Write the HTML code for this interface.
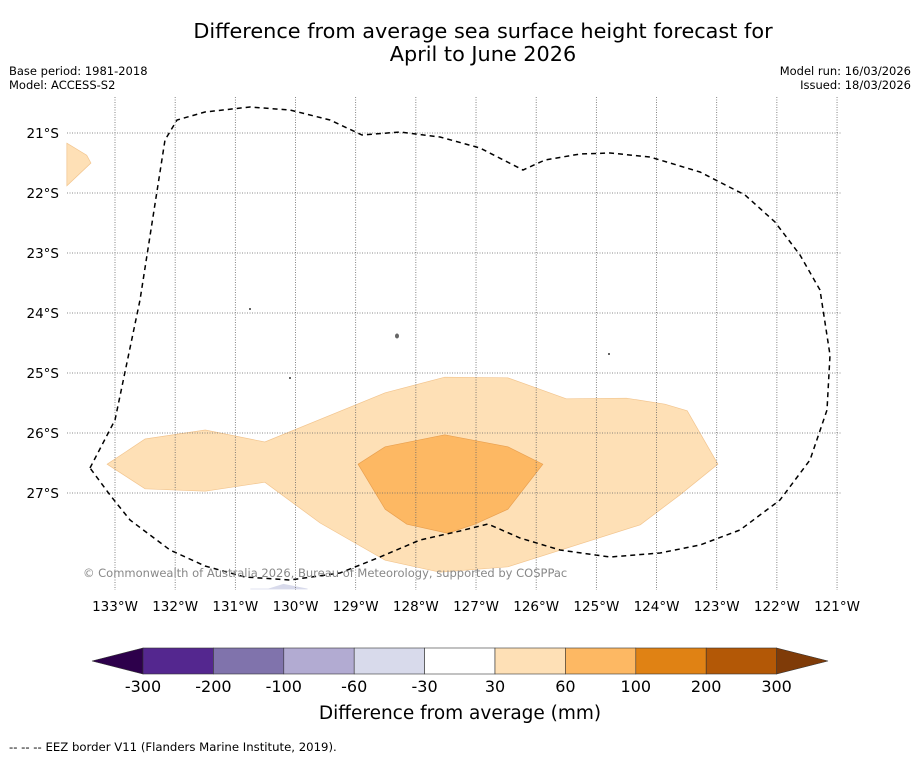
<!DOCTYPE html>
<html><head><meta charset="utf-8"><style>
body{margin:0;background:#fff;width:919px;height:758px;overflow:hidden;font-family:"DejaVu Sans","Liberation Sans",sans-serif}
svg{display:block}
</style></head><body>
<svg id="c" width="919" height="758">
<text x="483" y="38" text-anchor="middle" font-size="20.8">Difference from average sea surface height forecast for</text>
<text x="483" y="61" text-anchor="middle" font-size="20.8">April to June 2026</text>
<text x="9" y="75" font-size="11.5">Base period: 1981-2018</text>
<text x="9" y="89" font-size="11.5">Model: ACCESS-S2</text>
<text x="911" y="75" font-size="11.5" text-anchor="end">Model run: 16/03/2026</text>
<text x="911" y="89" font-size="11.5" text-anchor="end">Issued: 18/03/2026</text>
<g id="fills"></g>
<g id="grid"></g>
<path fill="none" stroke="#000" stroke-width="1.5" stroke-dasharray="5,4" d="M90,468 L115,420 L140,300 L165,140 L177,120 L205,112 L250,107 L290,110 L330,120 L362,135 L400,132 L440,137 L480,148 L523,170 L545,160 L580,154 L610,153 L650,157 L700,172 L745,195 L775,222 L800,255 L820,290 L830,355 L827,410 L810,460 L780,500 L740,530 L700,545 L660,553 L610,557 L560,550 L520,538 L488,524 L460,531 L420,540 L380,557 L340,573 L290,580 L245,577 L205,566 L170,550 L130,520 L110,495 Z"/>
<circle cx="250" cy="309" r="1" fill="#333"/>
<ellipse cx="397" cy="336" rx="2" ry="2.5" fill="#666"/>
<circle cx="290" cy="378" r="1" fill="#333"/>
<circle cx="609" cy="354" r="1" fill="#333"/>
<text x="83" y="577" font-size="11.5" fill="#888">© Commonwealth of Australia 2026, Bureau of Meteorology, supported by COSPPac</text>
<g id="cbar"></g>
<text x="460" y="719" text-anchor="middle" font-size="18.5">Difference from average (mm)</text>
<text x="9" y="751" font-size="11.7">--  --  -- EEZ border V11 (Flanders Marine Institute, 2019).</text>
</svg>
<script>
const lonTicks=[-133,-132,-131,-130,-129,-128,-127,-126,-125,-124,-123,-122,-121];
const latTicks=[-21,-22,-23,-24,-25,-26,-27];
const band1Lon=[-133.13,-132.5,-131.5,-130.51,-128.51,-127.52,-126.47,-125.5,-124.5,-123.86,-123.49,-122.98,-123.61,-124.27,-126.47,-127.6,-128.51,-129.59,-130.51,-131.5,-132.5];
const band1Lat=[-26.52,-26.1,-25.95,-26.15,-25.33,-25.07,-25.08,-25.43,-25.42,-25.52,-25.63,-26.52,-27.03,-27.53,-28.23,-28.32,-28.12,-27.5,-26.82,-26.97,-26.93];
const band2Lon=[-128.96,-128.51,-127.52,-126.47,-125.89,-126.47,-127.02,-127.47,-128.15,-128.51];
const band2Lat=[-26.52,-26.23,-26.03,-26.23,-26.52,-27.27,-27.52,-27.67,-27.52,-27.27];
const patchLon=[-133.8,-133.47,-133.4,-133.8];
const patchLat=[-21.17,-21.37,-21.5,-21.88];
const negLon=[-130.45,-130.2,-129.8,-130.75];
const negLat=[-28.6,-28.52,-28.6,-28.6];
const cbLevels=["-300","-200","-100","-60","-30","30","60","100","200","300"];
const cbColors=["#54278f","#8073ac","#b2abd2","#d8daeb","#ffffff","#fee0b6","#fdb863","#e08214","#b35806"];
const NS="http://www.w3.org/2000/svg";
const X=lon=>115+(lon+133)*60.17, Y=lat=>133+(-21-lat)*60;
const mk=(t,a,p)=>{const e=document.createElementNS(NS,t);for(const k in a)e.setAttribute(k,a[k]);p.appendChild(e);return e;};
const fills=document.getElementById('fills'),grid=document.getElementById('grid'),cb=document.getElementById('cbar');
function poly(lo,la,fill,stroke,name){
 const e=mk('polygon',{points:lo.map((v,i)=>X(v)+','+Y(la[i])).join(' '),fill:fill,stroke:stroke,'stroke-width':0.7},fills);
 
 
}
poly(band1Lon,band1Lat,'#fee0b6','#f2c58f','anomaly-30-60-region');
poly(band2Lon,band2Lat,'#fdb863','#e9a050','anomaly-60-100-region');
poly(patchLon,patchLat,'#fee0b6','#f2c58f','anomaly-30-60-patch');
poly(negLon,negLat,'#d8daeb','#d8daeb','anomaly-neg-patch');
lonTicks.forEach(l=>{
 const ln=mk('line',{x1:X(l),x2:X(l),y1:97,y2:590,stroke:'#666','stroke-width':0.8,'stroke-dasharray':'1,1.5'},grid);
 
 
 const t=mk('text',{x:X(l),y:611,'text-anchor':'middle','font-size':13.5},grid);t.textContent=(-l)+'°W';
 
 
});
latTicks.forEach(l=>{
 const ln=mk('line',{x1:67,x2:842,y1:Y(l),y2:Y(l),stroke:'#666','stroke-width':0.8,'stroke-dasharray':'1,1.5'},grid);
 
 
 const t=mk('text',{x:59,y:Y(l)+5,'text-anchor':'end','font-size':13.5},grid);t.textContent=(-l)+'°S';
 
 
});
const cx0=143,cw=70.4,cy=648,ch=26;
const le=mk('polygon',{points:`${cx0},${cy} 92,${cy+ch/2} ${cx0},${cy+ch}`,fill:'#2d004b',stroke:'#333','stroke-width':0.6},cb);


const re=mk('polygon',{points:`${cx0+9*cw},${cy} 828,${cy+ch/2} ${cx0+9*cw},${cy+ch}`,fill:'#7f3b08',stroke:'#333','stroke-width':0.6},cb);


cbColors.forEach((c,i)=>{
 const r=mk('rect',{x:cx0+i*cw,y:cy,width:cw,height:ch,fill:c,stroke:'#333','stroke-width':0.6},cb);
 
 
});
cbLevels.forEach((v,i)=>{
 const t=mk('text',{x:cx0+i*cw,y:692,'text-anchor':'middle','font-size':16},cb);t.textContent=v;
 
 
});
</script>
</body></html>
